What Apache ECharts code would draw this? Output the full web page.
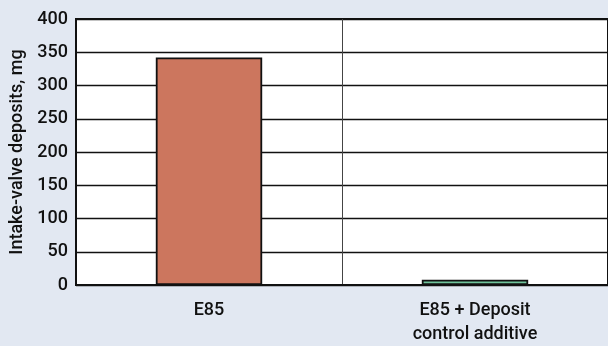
<!DOCTYPE html>
<html><head><meta charset="utf-8">
<script src="https://cdn.jsdelivr.net/npm/echarts@6/dist/echarts.min.js"></script>
<style>html,body{margin:0;padding:0;background:#e2e8f2;}#c{width:608px;height:346px;}</style>
</head><body><div id="c"></div>
<script>
const categories = ['E85', 'E85 + Deposit\ncontrol additive'];
const deposits = [342, 8];
const barColors = ['#cc765e', '#6fc39b'];
const yTicks = [0, 50, 100, 150, 200, 250, 300, 350, 400];

const chart = echarts.init(document.getElementById('c'));
chart.setOption({
  backgroundColor: '#e2e8f2',
  animation: false,
  textStyle: { fontFamily: 'Roboto, Liberation Sans, Arial, sans-serif' },
  grid: { left: 75, right: -2, top: 19, bottom: 56, show: true, backgroundColor: '#ffffff', borderColor: '#111', borderWidth: 2 },
  xAxis: {
    type: 'category',
    data: categories,
    axisLine: { show: true, lineStyle: { color: '#111', width: 2 } },
    axisTick: { show: false },
    splitLine: { show: true, lineStyle: { color: '#444', width: 1 } },
    axisLabel: { color: '#111', fontSize: 18, fontWeight: 500, lineHeight: 24, margin: 13, interval: 0 }
  },
  yAxis: {
    type: 'value',
    min: yTicks[0], max: yTicks[yTicks.length - 1], interval: 50,
    name: 'Intake-valve deposits, mg',
    nameLocation: 'middle',
    nameGap: 50,
    nameTextStyle: { color: '#111', fontSize: 18, fontWeight: 500 },
    axisLine: { show: true, lineStyle: { color: '#111', width: 2 } },
    axisTick: { show: false },
    splitLine: { show: true, lineStyle: { color: '#111', width: 1.3 } },
    axisLabel: { color: '#111', fontSize: 18, fontWeight: 500, margin: 8 }
  },
  series: [{
    type: 'bar',
    data: deposits.map((v, i) => ({ value: v, itemStyle: { color: barColors[i] } })),
    barWidth: '40%',
    itemStyle: { borderColor: '#111', borderWidth: 1.8 }
  }]
});
</script></body></html>
